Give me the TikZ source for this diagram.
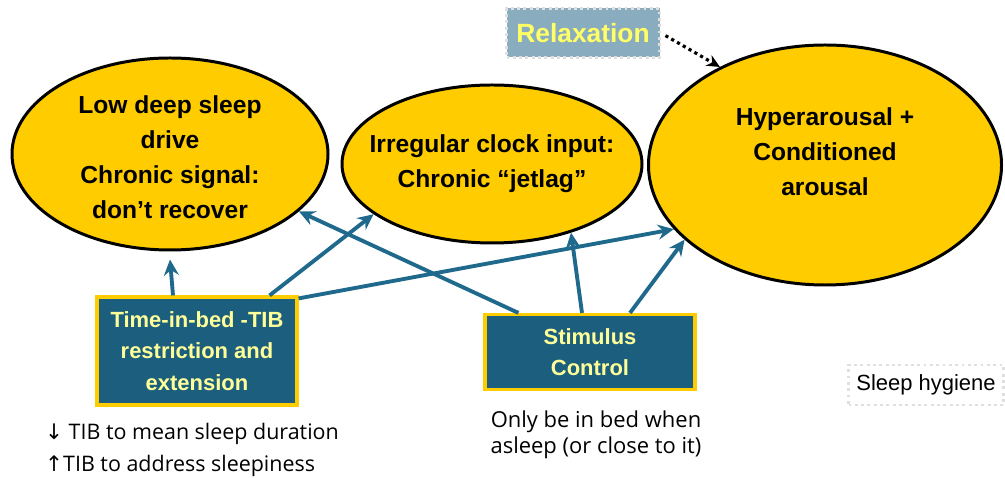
\documentclass[tikz,border=0pt]{standalone}
\usepackage{fontspec}
\setmainfont{Liberation Sans}
\newfontfamily\notefont{Open Sans}
\newfontfamily\arrowfont{DejaVu Sans}
\usetikzlibrary{shapes.geometric,positioning,arrows.meta}

\definecolor{ovalgold}{HTML}{FFCC00}
\definecolor{boxteal}{HTML}{1B5E7E}
\definecolor{linkteal}{HTML}{1F6A8C}
\definecolor{boxtext}{HTML}{FFFF99}
\definecolor{relaxfill}{HTML}{8AACBF}
\definecolor{relaxtext}{HTML}{FFFF66}

\begin{document}
\begin{tikzpicture}[
  oval/.style={ellipse, draw, line width=1.7pt, fill=ovalgold, inner sep=0pt},
  ovaltext/.style={align=center, inner sep=0pt, font=\bfseries\fontsize{14}{20}\selectfont},
  method/.style={rectangle, draw=ovalgold, line width=1.8pt, fill=boxteal, text=boxtext, align=center, font=\bfseries\fontsize{12.5}{18}\selectfont},
  link/.style={-{Stealth[length=3.2mm, width=3mm, inset=1.1mm]}, line width=2.2pt, draw=linkteal},
  tag/.style={rectangle, draw=gray!25, dotted, line width=1.6pt},
  note/.style={font=\notefont\fontsize{12.2}{18}\selectfont},
]
\useasboundingbox (0,0) rectangle (20.1,9.56);

% === TARGET MECHANISMS ===
\node[oval, minimum width=6.32cm, minimum height=3.84cm] (e1) at (3.40, 6.48) {};
\node[ovaltext] (e1txt) at ([yshift=-0.06cm]e1.center) {Low deep sleep\\drive\\Chronic signal:\\don’t recover};
\node[oval, minimum width=6.0cm, minimum height=3.16cm] (e2) at (9.84, 6.28) {};
\node[ovaltext] (e2txt) at (e2.center) {Irregular clock input:\\Chronic “jetlag”};
\node[oval, minimum width=7.06cm, minimum height=4.8cm] (e3) at (16.50, 6.26) {};
\node[ovaltext] (e3txt) at ([yshift=0.26cm]e3.center) {Hyperarousal +\\Conditioned\\arousal};

% === INTERVENTIONS ===
\node[method, minimum width=4.0cm, minimum height=2.16cm] (tib) at (3.94, 2.54) {Time-in-bed -TIB\\restriction and\\extension};
\node[method, minimum width=4.2cm, minimum height=1.5cm] (stim) at (11.80, 2.52) {Stimulus\\Control};

\node[tag, fill=relaxfill, text=relaxtext, font=\bfseries\fontsize{15}{16}\selectfont, minimum width=3.06cm, minimum height=0.98cm] (relax) at (11.66, 8.90) {Relaxation};
\node[tag, font=\fontsize{12.5}{14}\selectfont, minimum width=3.1cm, minimum height=0.8cm] (hygiene) at (18.52, 1.86) {Sleep hygiene};

% === LINKS ===
\draw[link] ([xshift=-0.48cm]tib.north) -- ([yshift=-0.16cm]e1.south);
\draw[link] ([xshift=-0.58cm]tib.north east) -- (e2.203);
\draw[link] ([yshift=-0.06cm]tib.north east) -- (e3.203);
\draw[link] ([xshift=0.70cm]stim.north west) -- (e1.336);
\draw[link] ([xshift=-0.16cm]stim.north) -- (e2.319);
\draw[link] ([xshift=0.80cm]stim.north) -- (e3.208);
\draw[dotted, line width=1.8pt, -{Stealth[length=2.6mm, width=2.4mm]}, shorten <=3pt] (relax.east) -- (e3.137);

% === NOTES ===
\node[note, align=left, anchor=west] (tibnote) at (0.78, 0.56) {{\arrowfont ↓} TIB to mean sleep duration\\{\arrowfont ↑}TIB to address sleepiness};
\node[note, align=center, font=\notefont\fontsize{12.5}{14.5}\selectfont] (stimnote) at (11.92, 0.86) {Only be in bed when\\asleep (or close to it)};
\end{tikzpicture}
\end{document}
